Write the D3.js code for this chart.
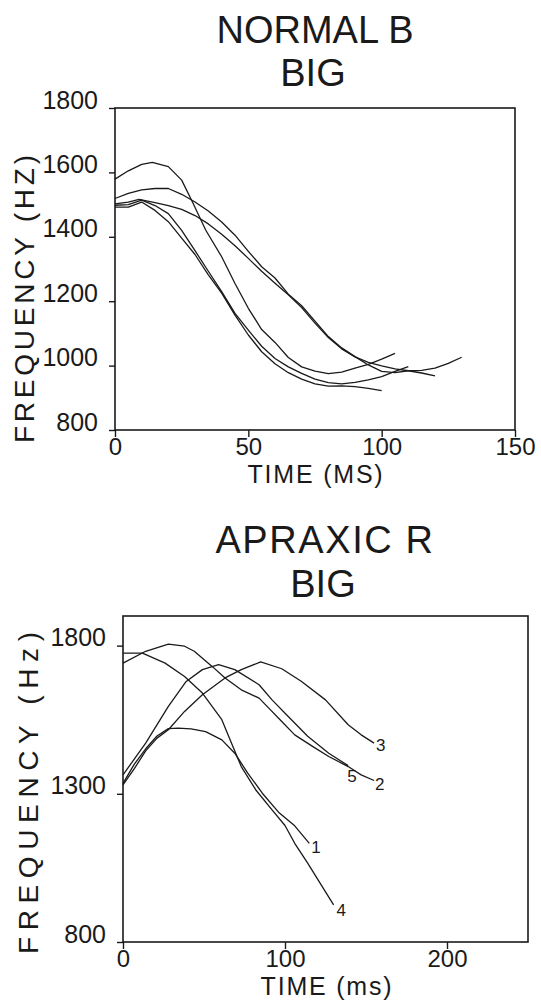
<!DOCTYPE html>
<html><head><meta charset="utf-8">
<script src="https://cdn.jsdelivr.net/npm/d3@7"></script>
<style>
body{margin:0;background:#fff}
svg{display:block}
text{font-family:"Liberation Sans",Arial,Helvetica,sans-serif;fill:#1a1a1a}
</style>
</head><body><svg id="c" width="541" height="1001"></svg>
<script>
// ---------- Chart 1: NORMAL B / BIG ----------
const normalTitle = ["NORMAL B", "BIG"];
const normalXTicks = [0, 50, 100, 150];
const normalYTicks = [800, 1000, 1200, 1400, 1600, 1800];
const normalXLabel = "TIME (MS)";
const normalYLabel = "FREQUENCY (HZ)";
// [time ms, frequency Hz]
const normalA = [[0,1579],[5,1605],[10,1625],[14,1631],[20,1618],[25,1576],[29,1509],[34,1421],[40,1338],[45,1255],[50,1178],[55,1112],[60,1072],[65,1025],[70,996],[75,983],[80,975],[85,980],[90,992],[95,1004],[100,1020],[105,1038]];
const normalB = [[0,1519],[5,1535],[10,1546],[15,1550],[20,1550],[25,1532],[30,1508],[35,1480],[40,1446],[45,1405],[50,1355],[55,1307],[60,1272],[65,1222],[70,1186],[75,1138],[80,1090],[85,1055],[90,1028],[95,1002],[100,982],[105,978],[110,984],[115,985],[120,992],[125,1007],[130,1026]];
const normalC = [[0,1502],[5,1508],[9,1516],[15,1506],[20,1497],[25,1485],[30,1466],[35,1440],[40,1408],[45,1372],[50,1333],[55,1293],[60,1256],[65,1220],[70,1180],[75,1132],[80,1087],[85,1052],[90,1027],[95,1010],[100,999],[105,990],[110,984],[115,977],[120,968]];
const normalD = [[0,1498],[5,1500],[10,1514],[15,1497],[20,1472],[25,1420],[30,1357],[35,1293],[40,1230],[45,1162],[50,1110],[55,1060],[60,1022],[65,996],[70,976],[75,958],[80,947],[85,943],[90,948],[95,956],[100,966],[105,982],[110,997]];
const normalE = [[0,1492],[5,1492],[10,1508],[15,1482],[20,1447],[25,1396],[30,1345],[35,1282],[40,1225],[45,1157],[50,1095],[55,1043],[60,1006],[65,978],[70,958],[75,943],[80,936],[85,937],[90,935],[95,929],[100,922]];
const normalSeries = [normalA, normalB, normalC, normalD, normalE];

// ---------- Chart 2: APRAXIC R / BIG ----------
const apraxicTitle = ["APRAXIC R", "BIG"];
const apraxicXTicks = [0, 100, 200];
const apraxicYTicks = [800, 1300, 1800];
const apraxicXLabel = "TIME (ms)";
const apraxicYLabel = "FREQUENCY (Hz)";
const apraxicNames = ["1", "2", "3", "4", "5"];
const apraxic1 = [[0,1335],[7,1400],[14,1452],[21,1495],[28,1520],[34,1522],[42,1519],[51,1510],[61,1482],[69,1437],[77,1370],[86,1302],[96,1238],[106,1192],[115,1133]];
const apraxic2 = [[0,1741],[14,1781],[28,1805],[38,1798],[44,1781],[55,1730],[63,1691],[73,1651],[84,1623],[90,1589],[98,1544],[106,1499],[117,1460],[127,1426],[139,1392],[147,1364],[155,1345]];
const apraxic3 = [[0,1330],[7,1385],[14,1445],[21,1488],[28,1516],[38,1578],[49,1634],[63,1691],[73,1719],[85,1745],[98,1722],[110,1680],[125,1617],[139,1533],[147,1499],[155,1471]];
const apraxic4 = [[0,1775],[12,1775],[26,1741],[38,1696],[49,1640],[55,1595],[61,1550],[67,1471],[73,1392],[82,1313],[92,1246],[100,1193],[106,1133],[114,1066],[123,987],[130,925]];
const apraxic5 = [[0,1364],[14,1471],[28,1595],[39,1679],[49,1719],[59,1736],[69,1719],[84,1668],[92,1617],[102,1561],[114,1494],[127,1437],[139,1395]];
const apraxicSeries = [apraxic1, apraxic2, apraxic3, apraxic4, apraxic5];
const apraxicLabelOffsets = [[2,10],[1,10],[2,8],[3,11],[-1,16]];

const svg = d3.select("#c");
const ink = "#1a1a1a";

function drawChart(cfg) {
  const g = svg.append("g");
  const x = d3.scaleLinear().domain(cfg.xDomain).range(cfg.xRange);
  const y = d3.scaleLinear().domain(cfg.yDomain).range(cfg.yRange);

  // titles
  g.append("text").attr("x", cfg.titleX[0]).attr("y", cfg.titleY[0])
    .attr("text-anchor", "middle").style("font-size", "38px")
    .style("letter-spacing", cfg.titleSpacing + "px").text(cfg.title[0]);
  g.append("text").attr("x", cfg.titleX[1]).attr("y", cfg.titleY[1])
    .attr("text-anchor", "middle").style("font-size", "38px").text(cfg.title[1]);

  // frame
  g.append("rect").attr("x", x.range()[0]).attr("y", y.range()[1])
    .attr("width", x.range()[1] - x.range()[0]).attr("height", y.range()[0] - y.range()[1])
    .attr("fill", "none").attr("stroke", ink).attr("stroke-width", 1.6);

  // y axis
  const ya = g.append("g").attr("transform", `translate(${x.range()[0]},0)`)
    .call(d3.axisLeft(y).tickValues(cfg.yTicks).tickFormat(d3.format("d"))
      .tickSize(6).tickPadding(11).tickSizeOuter(0));
  ya.select(".domain").remove();
  ya.selectAll("line").attr("stroke", ink).attr("stroke-width", 1.4);
  ya.selectAll("text").attr("dy", "0").style("font-size", "25px").attr("fill", ink);

  // x axis
  const xa = g.append("g").attr("transform", `translate(0,${y.range()[0]})`)
    .call(d3.axisBottom(x).tickValues(cfg.xTicks).tickFormat(d3.format("d"))
      .tickSize(7).tickSizeOuter(0));
  xa.select(".domain").remove();
  xa.selectAll("line").attr("stroke", ink).attr("stroke-width", 1.4);
  xa.selectAll("text").attr("y", 25).attr("dy", "0").style("font-size", "24px").attr("fill", ink);

  // axis titles
  g.append("text").attr("x", cfg.xLabelPos[0]).attr("y", cfg.xLabelPos[1])
    .attr("text-anchor", "middle").style("font-size", "25px")
    .style("letter-spacing", "1.8px").text(cfg.xLabel);
  g.append("text")
    .attr("transform", `translate(${cfg.yLabelPos[0]},${cfg.yLabelPos[1]}) rotate(-90)`)
    .attr("text-anchor", "middle").style("font-size", "28px")
    .attr("textLength", cfg.yLabelLen).attr("lengthAdjust", "spacing")
    .text(cfg.yLabel);

  // curves
  const line = d3.line().x(d => x(d[0])).y(d => y(d[1]));
  g.selectAll("path.curve").data(cfg.series).join("path")
    .attr("class", "curve").attr("d", line)
    .attr("fill", "none").attr("stroke", ink).attr("stroke-width", 1.3)
    .attr("stroke-linejoin", "round");

  if (cfg.names) {
    g.selectAll("text.lbl").data(cfg.series).join("text")
      .attr("class", "lbl")
      .attr("x", (d, i) => x(d[d.length - 1][0]) + cfg.labelOffsets[i][0])
      .attr("y", (d, i) => y(d[d.length - 1][1]) + cfg.labelOffsets[i][1])
      .style("font-size", "17px").attr("fill", ink)
      .text((d, i) => cfg.names[i]);
  }
}

drawChart({
  title: normalTitle, titleX: [315, 313], titleY: [43, 86], titleSpacing: 0,
  xDomain: [0, 150], xRange: [115, 515],
  yDomain: [800, 1800], yRange: [430, 108],
  xTicks: normalXTicks, yTicks: normalYTicks,
  xLabel: normalXLabel, xLabelPos: [316, 483],
  yLabel: normalYLabel, yLabelPos: [34, 299], yLabelLen: 288,
  series: normalSeries
});

drawChart({
  title: apraxicTitle, titleX: [325, 323], titleY: [553, 597], titleSpacing: 1.6,
  xDomain: [0, 250], xRange: [123, 528],
  yDomain: [800, 1900], yRange: [942, 616],
  xTicks: apraxicXTicks, yTicks: apraxicYTicks,
  xLabel: apraxicXLabel, xLabelPos: [327, 995],
  yLabel: apraxicYLabel, yLabelPos: [38, 793], yLabelLen: 322,
  series: apraxicSeries, names: apraxicNames, labelOffsets: apraxicLabelOffsets
});
</script>
</body></html>
